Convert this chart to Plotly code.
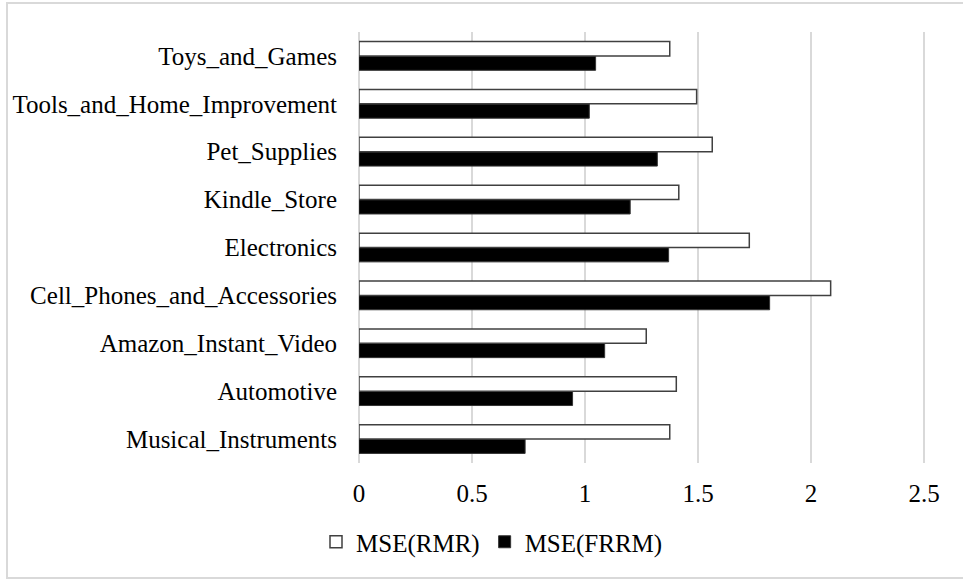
import plotly.graph_objects as go

# Product categories (bottom to top) and mean squared errors per model
categories = [
    "Musical_Instruments",
    "Automotive",
    "Amazon_Instant_Video",
    "Cell_Phones_and_Accessories",
    "Electronics",
    "Kindle_Store",
    "Pet_Supplies",
    "Tools_and_Home_Improvement",
    "Toys_and_Games",
]
mse_rmr = [1.375, 1.404, 1.271, 2.087, 1.727, 1.415, 1.563, 1.494, 1.375]
mse_frrm = [0.735, 0.945, 1.087, 1.817, 1.370, 1.200, 1.320, 1.019, 1.047]
x_ticks = [0, 0.5, 1, 1.5, 2, 2.5]
x_tick_text = ["0", "0.5", "1", "1.5", "2", "2.5"]

FONT = "Liberation Serif"
GRID = "#d9d9d9"

# plot area geometry (pixels)
L, R, T, B = 359, 36, 32, 116
PW = 963 - L - R
PH = 579 - T - B

fig = go.Figure()
# FRRM added first so it sits below RMR within each category
fig.add_trace(go.Bar(
    y=categories, x=mse_frrm, orientation="h", name="MSE(FRRM)",
    marker=dict(color="#000000", line=dict(color="#333333", width=1)),
    legendrank=2,
))
fig.add_trace(go.Bar(
    y=categories, x=mse_rmr, orientation="h", name="MSE(RMR)",
    marker=dict(color="#ffffff", line=dict(color="#404040", width=1.5)),
    legendrank=1,
))

fig.update_layout(
    width=963, height=579,
    barmode="group", bargap=0.4, bargroupgap=0,
    paper_bgcolor="white", plot_bgcolor="white",
    margin=dict(l=L, r=R, t=T, b=B),
    font=dict(family=FONT, size=25, color="#000000"),
    showlegend=True,
    legend=dict(
        orientation="h", x=(492 - L) / PW, xanchor="center",
        y=-(542 - (579 - B)) / PH, yanchor="middle",
        font=dict(family=FONT, size=25, color="#000000"),
        itemwidth=30, traceorder="normal",
        bgcolor="rgba(0,0,0,0)",
    ),
    xaxis=dict(
        range=[0, 2.5 * PW / 565.0], tickvals=x_ticks, ticktext=x_tick_text,
        showgrid=True, gridcolor=GRID, gridwidth=1.5,
        zeroline=True, zerolinecolor=GRID, zerolinewidth=1.5,
        showline=False, ticks="outside", ticklen=8, tickcolor="rgba(0,0,0,0)",
        tickfont=dict(family=FONT, size=25),
        fixedrange=True,
    ),
    yaxis=dict(
        categoryorder="array", categoryarray=categories,
        showgrid=False, zeroline=False, showline=False,
        ticks="outside", ticklen=16, tickcolor="rgba(0,0,0,0)",
        tickfont=dict(family=FONT, size=25),
        fixedrange=True,
    ),
    shapes=[dict(
        type="rect", xref="paper", yref="paper",
        x0=(7 - L) / PW, x1=(968 - L) / PW,
        y0=-(B - 1) / PH, y1=(PH + T - 3) / PH,
        line=dict(color=GRID, width=2), fillcolor="rgba(0,0,0,0)", layer="below",
    )],
)

fig.write_html("out.html")
